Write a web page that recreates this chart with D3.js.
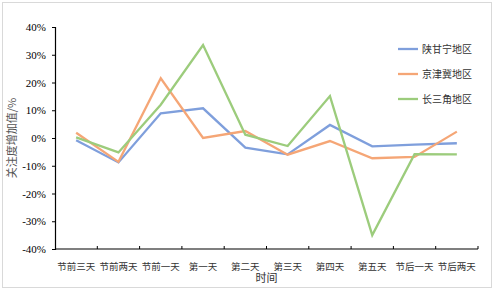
<!DOCTYPE html>
<html>
<head>
<meta charset="utf-8">
<script src="https://cdn.jsdelivr.net/npm/d3@7"></script>
<style>
  body { margin: 0; background: #fff; }
  svg { display: block; }
</style>
</head>
<body>
<div id="chart"></div>
<script>
// Data (values in %)
const days = ["节前三天", "节前两天", "节前一天", "第一天", "第二天", "第三天", "第四天", "第五天", "节后一天", "节后两天"];
const shaanganning = [-0.8, -8.8, 8.9, 10.7, -3.5, -5.9, 4.7, -3.0, -2.4, -1.9];
const jingjinji = [1.9, -8.6, 21.5, 0.0, 2.5, -6.0, -1.1, -7.3, -6.8, 2.3];
const changsanjiao = [0.2, -5.2, 12.0, 33.5, 1.2, -2.9, 15.1, -35.0, -5.8, -5.9];
const seriesNames = ["陕甘宁地区", "京津冀地区", "长三角地区"];
const yTicks = [40, 30, 20, 10, 0, -10, -20, -30, -40];

const width = 498, height = 291;
const margin = { top: 27, right: 20, bottom: 42, left: 55 };
const colors = ["#7f9fdc", "#f5a676", "#9ccc7c"];
const serif = "'Liberation Serif', 'Times New Roman', serif";
const cjk = "'Noto Sans CJK SC', sans-serif";

const svg = d3.select("#chart").append("svg")
  .attr("width", width)
  .attr("height", height);

// outer frame
svg.append("rect")
  .attr("x", 2.5).attr("y", 2.5)
  .attr("width", 489).attr("height", 285)
  .attr("fill", "#fff")
  .attr("stroke", "#d9d9d9");

const x = d3.scaleBand()
  .domain(days)
  .range([margin.left, 478]);

const y = d3.scaleLinear()
  .domain([-40, 40])
  .range([249, margin.top]);

// y axis
const yAxis = svg.append("g")
  .attr("transform", `translate(${margin.left},0)`)
  .call(d3.axisLeft(y).tickValues(yTicks).tickSize(3).tickPadding(6)
    .tickFormat(d => d + "%"));
yAxis.select(".domain").attr("stroke", "#000").attr("stroke-width", 1.2);
yAxis.selectAll("line").attr("stroke", "#000");
yAxis.selectAll("text")
  .style("font-family", serif)
  .style("font-size", "11px")
  .attr("fill", "#000");

// x axis (ticks pointing up, at category boundaries)
const xAxisG = svg.append("g")
  .attr("transform", `translate(0,${y(-40)})`);
xAxisG.append("line")
  .attr("x1", margin.left).attr("x2", 478)
  .attr("stroke", "#000").attr("stroke-width", 1.2);
xAxisG.selectAll(".tk")
  .data(days)
  .join("line")
  .attr("class", "tk")
  .attr("x1", d => x(d) + x.bandwidth())
  .attr("x2", d => x(d) + x.bandwidth())
  .attr("y1", 0).attr("y2", -3)
  .attr("stroke", "#000");
xAxisG.selectAll(".lb")
  .data(days)
  .join("text")
  .attr("class", "lb")
  .attr("x", d => x(d) + x.bandwidth() / 2)
  .attr("y", 20.5)
  .attr("text-anchor", "middle")
  .style("font-family", cjk)
  .style("font-size", "9.5px")
  .attr("fill", "#333")
  .text(d => d);

// axis titles
svg.append("text")
  .attr("x", (margin.left + 478) / 2)
  .attr("y", 282)
  .attr("text-anchor", "middle")
  .style("font-family", cjk)
  .style("font-size", "11px")
  .attr("fill", "#333")
  .text("时间");

svg.append("text")
  .attr("transform", `translate(16,${y(0)}) rotate(-90)`)
  .attr("text-anchor", "middle")
  .style("font-family", cjk)
  .style("font-size", "11px")
  .attr("fill", "#555")
  .text("关注度增加值/%");

// lines
const allSeries = [shaanganning, jingjinji, changsanjiao];
const line = d3.line()
  .x((d, i) => x(days[i]) + x.bandwidth() / 2)
  .y(d => y(d));

svg.selectAll(".series")
  .data(allSeries)
  .join("path")
  .attr("class", "series")
  .attr("d", line)
  .attr("fill", "none")
  .attr("stroke", (d, i) => colors[i])
  .attr("stroke-width", 2.3)
  .attr("stroke-linejoin", "miter");

// legend
const legend = svg.append("g")
  .attr("transform", "translate(398,49)");
seriesNames.forEach((name, i) => {
  const item = legend.append("g")
    .attr("transform", `translate(0,${i * 25})`);
  item.append("line")
    .attr("x1", 0).attr("x2", 20)
    .attr("stroke", colors[i])
    .attr("stroke-width", 2.3);
  item.append("text")
    .attr("x", 24)
    .attr("y", 3.5)
    .style("font-family", cjk)
    .style("font-size", "10px")
    .attr("fill", "#333")
    .text(name);
});
</script>
</body>
</html>
